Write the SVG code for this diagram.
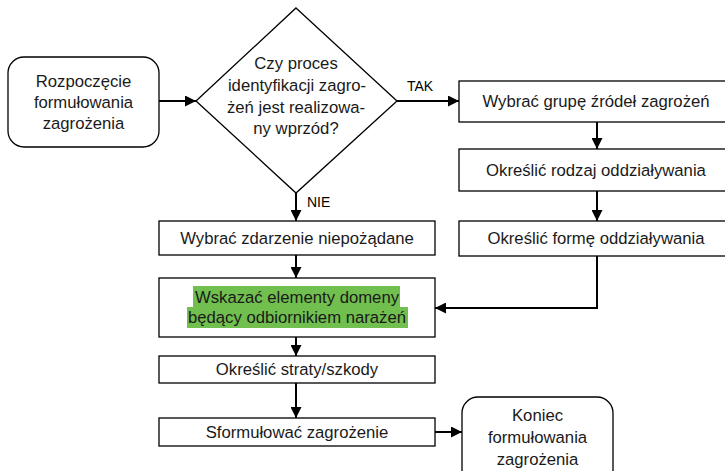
<svg xmlns="http://www.w3.org/2000/svg" width="725" height="471" viewBox="0 0 725 471">
<defs>
<style>
.n{fill:#fff;stroke:#000;stroke-width:1.3}
.t{font-family:"Liberation Sans",Arial,sans-serif;font-size:16.7px;fill:#1a1a1a;text-anchor:middle;dominant-baseline:central}
.l{font-family:"Liberation Sans",Arial,sans-serif;font-size:14px;fill:#000;dominant-baseline:central}
.c{fill:none;stroke:#000;stroke-width:2;marker-end:url(#a)}
.hl{fill:#71bf4e}
</style>
<marker id="a" viewBox="0 0 10 10" refX="10" refY="5" markerWidth="5.5" markerHeight="5.5" orient="auto" markerUnits="strokeWidth">
<path d="M0,0L10,5L0,10z" fill="#000"/>
</marker>
</defs>
<rect width="725" height="471" fill="#fff"/>
<g id="connectors">
<path class="c" d="M159,101H196"/>
<path class="c" d="M397,101H459"/>
<path class="c" d="M296,193V221"/>
<path class="c" d="M296,255V278"/>
<path class="c" d="M296,337V356"/>
<path class="c" d="M296,383V418"/>
<path class="c" d="M435,432H462"/>
<path class="c" d="M597,122V149"/>
<path class="c" d="M597,191V221"/>
<path class="c" d="M597,256V308H435"/>
<text class="l" x="407" y="86">TAK</text>
<text class="l" x="307" y="202">NIE</text>
</g>
<g id="start">
<rect class="n" x="8" y="57" width="151" height="90" rx="16"/>
<text class="t" x="83.5" y="81">Rozpoczęcie</text>
<text class="t" x="83.5" y="102">formułowania</text>
<text class="t" x="83.5" y="123">zagrożenia</text>
</g>
<g id="decision">
<path class="n" d="M296,8L397,101L296,193L196,101z"/>
<text class="t" x="296" y="63">Czy proces</text>
<text class="t" x="297" y="85">identyfikacji zagro-</text>
<text class="t" x="296" y="107">żeń jest realizowa-</text>
<text class="t" x="296" y="128">ny wprzód?</text>
</g>
<g id="r1">
<rect class="n" x="459" y="81" width="276" height="41"/>
<text class="t" x="596" y="101.5">Wybrać grupę źródeł zagrożeń</text>
</g>
<g id="r2">
<rect class="n" x="459" y="149" width="276" height="42"/>
<text class="t" x="596" y="170">Określić rodzaj oddziaływania</text>
</g>
<g id="r3">
<rect class="n" x="459" y="221" width="276" height="35"/>
<text class="t" x="596" y="238.5">Określić formę oddziaływania</text>
</g>
<g id="l1">
<rect class="n" x="159" y="221" width="276" height="34"/>
<text class="t" x="297" y="238">Wybrać zdarzenie niepożądane</text>
</g>
<g id="l2">
<rect class="n" x="159" y="278" width="276" height="59"/>
<rect class="hl" x="193" y="286" width="207" height="21"/>
<rect class="hl" x="187" y="307" width="221" height="21"/>
<text class="t" x="297" y="297">Wskazać elementy domeny</text>
<text class="t" x="297" y="317.5">będący odbiornikiem narażeń</text>
</g>
<g id="l3">
<rect class="n" x="159" y="356" width="276" height="27"/>
<text class="t" x="297" y="369.5">Określić straty/szkody</text>
</g>
<g id="l4">
<rect class="n" x="159" y="418" width="276" height="28"/>
<text class="t" x="297" y="432">Sformułować zagrożenie</text>
</g>
<g id="end">
<rect class="n" x="462" y="397" width="151" height="90" rx="16"/>
<text class="t" x="537.5" y="415">Koniec</text>
<text class="t" x="537.5" y="437">formułowania</text>
<text class="t" x="537.5" y="459">zagrożenia</text>
</g>
</svg>
